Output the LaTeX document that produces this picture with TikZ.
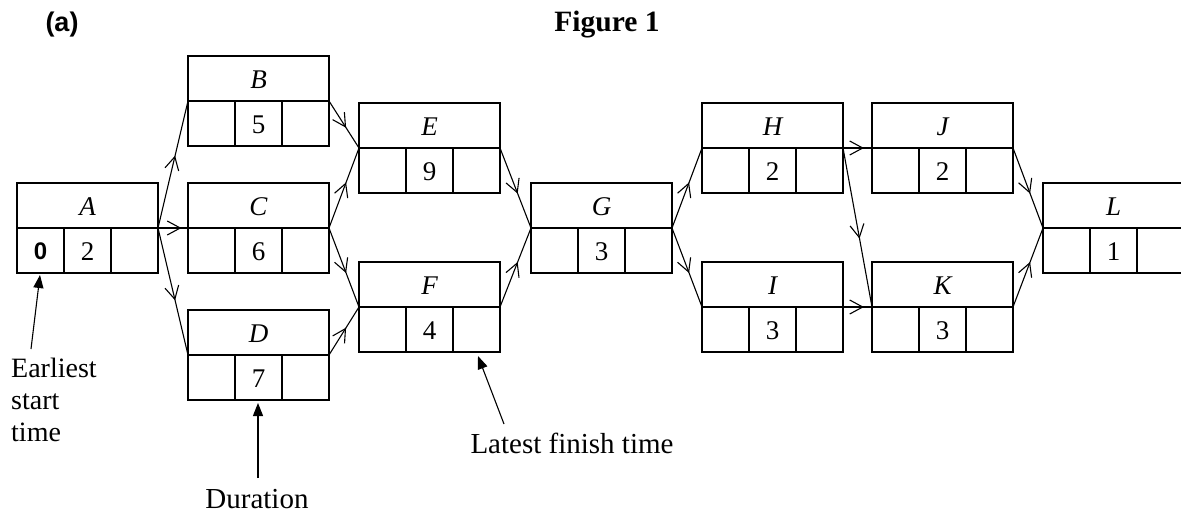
\documentclass[tikz,border=0pt]{standalone}
\usepackage{fontspec}
\setmainfont{Liberation Serif}
\newfontfamily\labelsans{Liberation Sans}
\usetikzlibrary{arrows.meta,decorations.markings}

\tikzset{
  frame/.style={draw, line width=1.2pt, minimum width=141pt, minimum height=90pt,
    inner sep=0pt, outer sep=0pt},
  rule/.style={line width=1.2pt},
  link/.style={line width=1.1pt, postaction={decorate},
    decoration={markings, mark=at position #1 with
      {\arrow{Straight Barb[length=13pt,width=14pt,line width=1.1pt]}}}},
  link/.default=0.57,
  note/.style={line width=1.1pt, -{Triangle[length=13pt,width=10pt]}},
  txt/.style={font=\fontsize{27}{32}\selectfont, inner sep=0pt},
  lbl/.style={font=\fontsize{29}{33}\selectfont, inner sep=0pt},
}

% activity box: name, left x, top y, activity letter, duration
\newcommand\actbox[5]{%
  \node[frame] (#1) at (#2+70.5,#3+45) {};
  \draw[rule] (#1.west) -- (#1.east);
  \draw[rule] (#2+47,#3+45) -- (#2+47,#3+90);
  \draw[rule] (#2+94,#3+45) -- (#2+94,#3+90);
  \node[txt] (#1-name) at (#2+70.5,#3+23.5) {\itshape #4};
  \node[txt] (#1-dur) at (#2+70.5,#3+69) {#5};
}

\begin{document}
\begin{tikzpicture}[x=1pt, y=-1pt]
  \useasboundingbox (0,0) rectangle (1181,514);
  \fill[white] (0,0) rectangle (1181,514);
  \clip (0,0) rectangle (1181,514);

  % headings
  \node[font=\labelsans\bfseries\fontsize{27}{30}\selectfont, inner sep=0pt, anchor=base]
    (part) at (62,31) {(a)};
  \node[font=\bfseries\fontsize{29.5}{33}\selectfont, inner sep=0pt, anchor=base]
    (title) at (607,31) {Figure 1};

  % activity boxes
  \actbox{A}{17}{183}{A}{2}
  \actbox{B}{188}{56}{B}{5}
  \actbox{C}{188}{183}{C}{6}
  \actbox{D}{188}{310}{D}{7}
  \actbox{E}{359}{103}{E}{9}
  \actbox{F}{359}{262}{F}{4}
  \actbox{G}{531}{183}{G}{3}
  \actbox{H}{702}{103}{H}{2}
  \actbox{I}{702}{262}{I}{3}
  \actbox{J}{872}{103}{J}{2}
  \actbox{K}{872}{262}{K}{3}
  \actbox{L}{1043}{183}{L}{1}

  % earliest start time of A
  \node[font=\labelsans\bfseries\fontsize{24}{28}\selectfont, inner sep=0pt]
    (A-est) at (40.5,251) {0};

  % precedence links
  \draw[link] (A.east) -- (B.west);
  \draw[link=0.78] (A.east) -- (C.west);
  \draw[link] (A.east) -- (D.west);
  \draw[link] (B.east) -- (E.west);
  \draw[link] (C.east) -- (E.west);
  \draw[link] (C.east) -- (F.west);
  \draw[link] (D.east) -- (F.west);
  \draw[link] (E.east) -- (G.west);
  \draw[link] (F.east) -- (G.west);
  \draw[link] (G.east) -- (H.west);
  \draw[link] (G.east) -- (I.west);
  \draw[link=0.72] (H.east) -- (J.west);
  \draw[link] (H.east) -- (K.west);
  \draw[link=0.72] (I.east) -- (K.west);
  \draw[link] (J.east) -- (L.west);
  \draw[link] (K.east) -- (L.west);

  % key labels (base anchor of a multi-line node sits on its last line)
  \node[lbl, align=left, anchor=base west, font=\fontsize{28}{32}\selectfont]
    (est) at (11,441) {Earliest\\start\\time};
  \node[lbl, anchor=base] (dur) at (257,508) {Duration};
  \node[lbl, anchor=base] (lft) at (572,453) {Latest finish time};

  \coordinate (est-tail) at (31,349);
  \coordinate (est-tip) at (40,275);
  \coordinate (dur-tail) at (258,478);
  \coordinate (dur-tip) at (258,403);
  \coordinate (lft-tail) at (504,424);
  \coordinate (lft-tip) at (478,356);
  \draw[note] (est-tail) -- (est-tip);
  \draw[note] (dur-tail) -- (dur-tip);
  \draw[note] (lft-tail) -- (lft-tip);
\end{tikzpicture}
\end{document}
